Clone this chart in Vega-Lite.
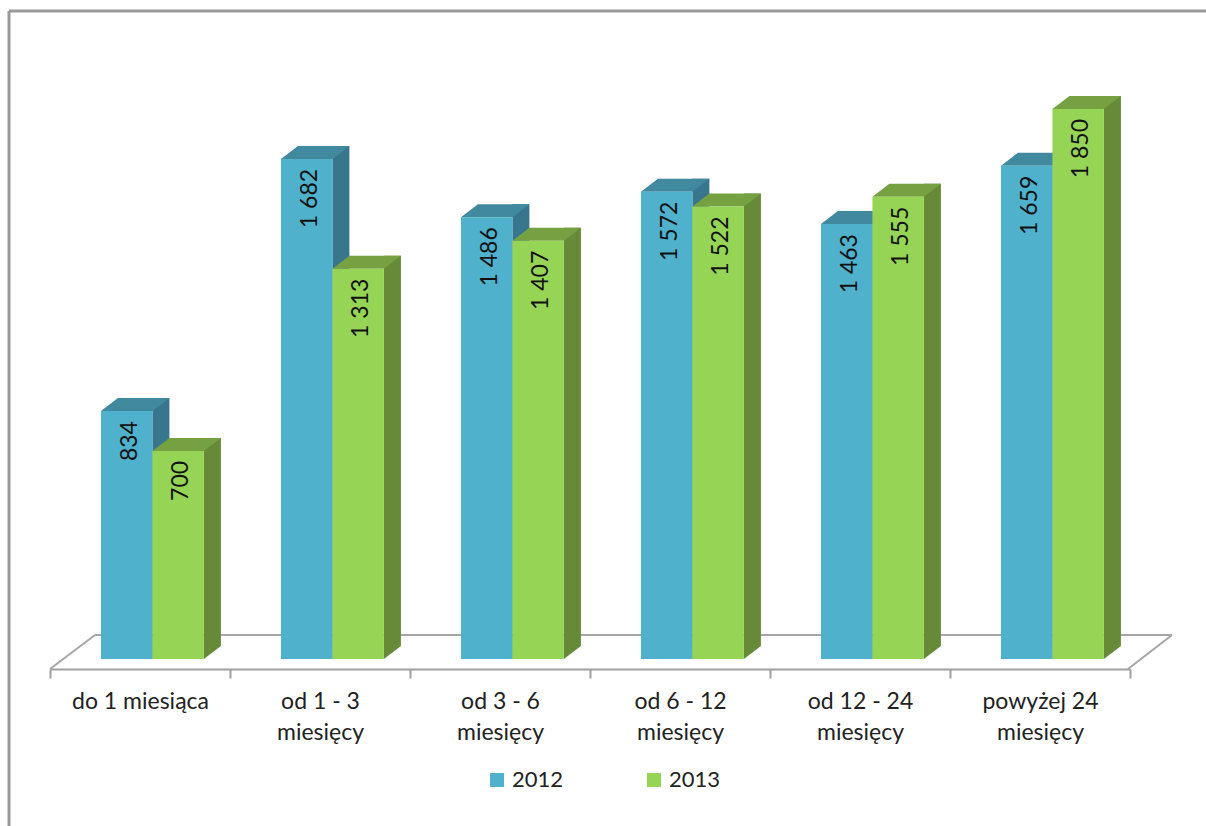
{"$schema":"https://vega.github.io/schema/vega-lite/v6.json","width":1080,"height":600,"autosize":"none","padding":{"left":50,"top":69,"right":76,"bottom":157},"background":"white","config":{"view":{"stroke":null},"font":"Lato"},"data":{"values":[{"kat":"do 1 miesiąca","rok":"2012","wartosc":834,"etykieta":"834"},{"kat":"do 1 miesiąca","rok":"2013","wartosc":700,"etykieta":"700"},{"kat":"od 1 - 3 miesięcy","rok":"2012","wartosc":1682,"etykieta":"1 682"},{"kat":"od 1 - 3 miesięcy","rok":"2013","wartosc":1313,"etykieta":"1 313"},{"kat":"od 3 - 6 miesięcy","rok":"2012","wartosc":1486,"etykieta":"1 486"},{"kat":"od 3 - 6 miesięcy","rok":"2013","wartosc":1407,"etykieta":"1 407"},{"kat":"od 6 - 12 miesięcy","rok":"2012","wartosc":1572,"etykieta":"1 572"},{"kat":"od 6 - 12 miesięcy","rok":"2013","wartosc":1522,"etykieta":"1 522"},{"kat":"od 12 - 24 miesięcy","rok":"2012","wartosc":1463,"etykieta":"1 463"},{"kat":"od 12 - 24 miesięcy","rok":"2013","wartosc":1555,"etykieta":"1 555"},{"kat":"powyżej 24 miesięcy","rok":"2012","wartosc":1659,"etykieta":"1 659"},{"kat":"powyżej 24 miesięcy","rok":"2013","wartosc":1850,"etykieta":"1 850"}]},"encoding":{"x":{"field":"kat","type":"nominal","sort":null,"title":null,"scale":{"paddingInner":0,"paddingOuter":0},"axis":{"tickBand":"extent","domainColor":"#a0a0a0","domainWidth":2,"tickColor":"#a0a0a0","tickWidth":2,"tickSize":9,"labelAngle":0,"labelFontSize":23,"labelColor":"#222222","labelPadding":12,"labelLineHeight":31,"labelBaseline":"top","labelLimit":300,"labelExpr":"indexof(datum.label,'do')==0 ? datum.label : split(replace(datum.label,' miesięcy','| miesięcy'),'| ')"}},"y":{"field":"wartosc","type":"quantitative","title":null,"scale":{"domain":[-33.6,1984.5],"nice":false,"zero":false},"axis":null}},"layer":[{"data":{"values":[{}]},"mark":{"type":"rule","color":"#999999","strokeWidth":3,"clip":false},"encoding":{"x":{"value":-41},"y":{"value":-58},"y2":{"value":757}}},{"data":{"values":[{}]},"mark":{"type":"rule","color":"#999999","strokeWidth":3,"clip":false},"encoding":{"x":{"value":-41},"x2":{"value":1156},"y":{"value":-58}}},{"data":{"values":[{}]},"mark":{"type":"rule","color":"#a6a6a6","strokeWidth":2},"encoding":{"x":{"value":45},"x2":{"value":1122},"y":{"value":566}}},{"data":{"values":[{}]},"mark":{"type":"rule","color":"#a6a6a6","strokeWidth":2},"encoding":{"x":{"value":0},"x2":{"value":45},"y":{"value":600},"y2":{"value":566}}},{"data":{"values":[{}]},"mark":{"type":"rule","color":"#a6a6a6","strokeWidth":2},"encoding":{"x":{"value":1078},"x2":{"value":1122},"y":{"value":600},"y2":{"value":566}}},{"transform":[{"filter":"datum.rok=='2012'"}],"mark":{"type":"bar","color":"#37768c","width":17,"xOffset":20.9,"yOffset":-13,"y2Offset":-13},"encoding":{"y2":{"datum":0}}},{"transform":[{"filter":"datum.rok=='2012'"}],"mark":{"type":"point","filled":true,"opacity":1,"size":4,"color":"#37768c","xOffset":-13.3,"shape":"M25.75,0L25.75,-13L42.75,-13Z"},"encoding":{"y":{"datum":0}}},{"transform":[{"filter":"datum.rok=='2012'"}],"mark":{"type":"point","filled":true,"opacity":1,"size":4,"color":"#41899f","xOffset":-13.3,"shape":"M-25.75,0L25.75,0L42.75,-13L-8.75,-13Z"}},{"transform":[{"filter":"datum.rok=='2012'"}],"mark":{"type":"bar","width":51.45,"xOffset":-13.3},"encoding":{"y2":{"datum":0},"color":{"field":"rok","type":"nominal","scale":{"domain":["2012","2013"],"range":["#4FB1CB","#96D455"]},"legend":{"title":null,"orient":"none","legendX":436,"legendY":700,"direction":"horizontal","columns":2,"columnPadding":79,"symbolType":"square","symbolSize":196,"symbolStrokeWidth":0,"symbolOpacity":1,"labelFontSize":22,"labelColor":"#222222","labelOffset":4,"labelFont":"Lato"}}}},{"transform":[{"filter":"datum.rok=='2013'"}],"mark":{"type":"bar","color":"#668a37","width":17,"xOffset":72.4,"yOffset":-13,"y2Offset":-13},"encoding":{"y2":{"datum":0}}},{"transform":[{"filter":"datum.rok=='2013'"}],"mark":{"type":"point","filled":true,"opacity":1,"size":4,"color":"#668a37","xOffset":38.15,"shape":"M25.75,0L25.75,-13L42.75,-13Z"},"encoding":{"y":{"datum":0}}},{"transform":[{"filter":"datum.rok=='2013'"}],"mark":{"type":"point","filled":true,"opacity":1,"size":4,"color":"#76a142","xOffset":38.15,"shape":"M-25.75,0L25.75,0L42.75,-13L-8.75,-13Z"}},{"transform":[{"filter":"datum.rok=='2013'"}],"mark":{"type":"bar","width":51.45,"xOffset":38.15},"encoding":{"y2":{"datum":0},"color":{"field":"rok","type":"nominal"}}},{"transform":[{"filter":"datum.rok=='2012'"}],"mark":{"type":"text","angle":270,"align":"right","baseline":"middle","xOffset":-10.3,"yOffset":10,"fontSize":23,"font":"Lato","color":"#111111"},"encoding":{"text":{"field":"etykieta","type":"nominal"}}},{"transform":[{"filter":"datum.rok=='2013'"}],"mark":{"type":"text","angle":270,"align":"right","baseline":"middle","xOffset":41.15,"yOffset":10,"fontSize":23,"font":"Lato","color":"#111111"},"encoding":{"text":{"field":"etykieta","type":"nominal"}}}]}
